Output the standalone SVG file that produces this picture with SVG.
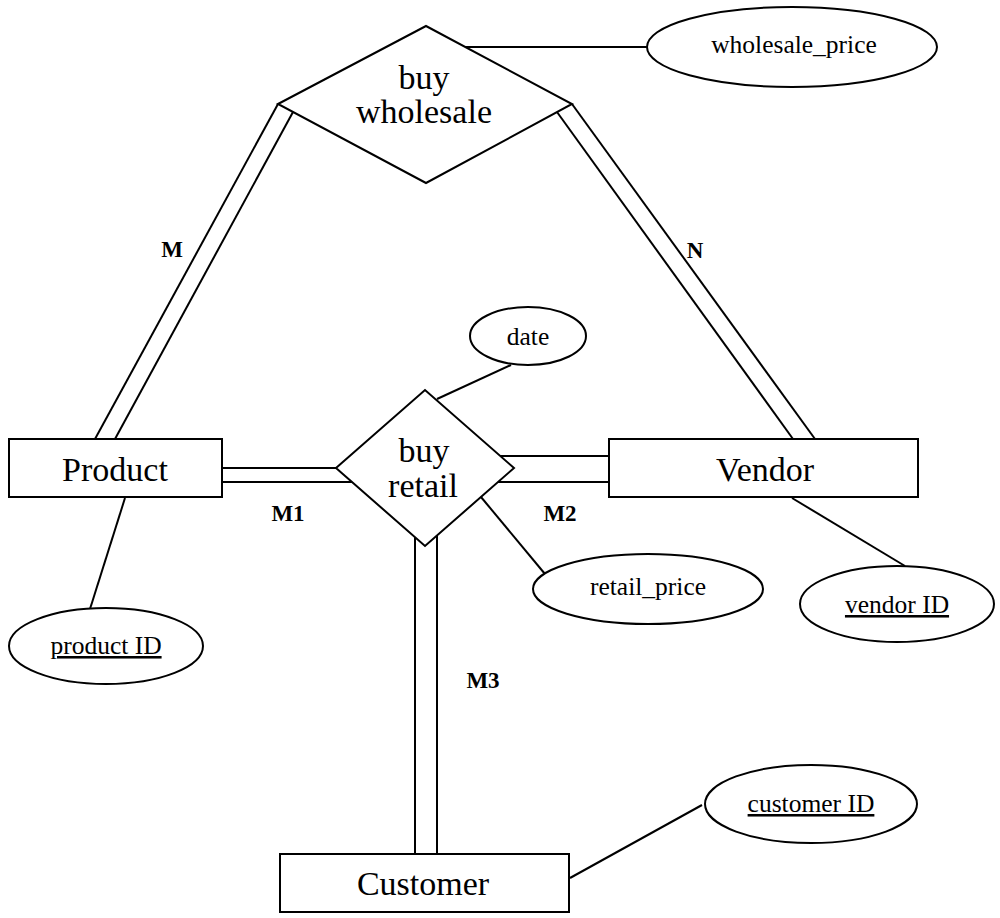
<svg xmlns="http://www.w3.org/2000/svg" width="1000" height="918" viewBox="0 0 1000 918">
<style>
.shape{fill:#fff;stroke:#000;stroke-width:2}
.ln{stroke:#000;stroke-width:2;fill:none}
.ent{font-family:"Liberation Serif","Times New Roman",serif;font-size:34px;text-anchor:middle;fill:#000}
.att{font-family:"Liberation Serif","Times New Roman",serif;font-size:25.5px;text-anchor:middle;fill:#000}
.key{text-decoration:underline}
.card{font-family:"Liberation Serif","Times New Roman",serif;font-size:23px;font-weight:bold;text-anchor:middle;fill:#000}
</style>
<rect width="1000" height="918" fill="#fff"/>
<g id="connectors">
<line class="ln" x1="278" y1="104" x2="95" y2="439"/>
<line class="ln" x1="293" y1="112" x2="115" y2="439"/>
<line class="ln" x1="572" y1="104" x2="815" y2="439"/>
<line class="ln" x1="557" y1="112" x2="793" y2="439"/>
<line class="ln" x1="465" y1="47" x2="647" y2="47"/>
<line class="ln" x1="222" y1="468" x2="336" y2="468"/>
<line class="ln" x1="222" y1="482" x2="352" y2="482"/>
<line class="ln" x1="500" y1="456" x2="609" y2="456"/>
<line class="ln" x1="498" y1="482" x2="609" y2="482"/>
<line class="ln" x1="415" y1="537" x2="415" y2="854"/>
<line class="ln" x1="437" y1="535" x2="437" y2="854"/>
<line class="ln" x1="437" y1="399" x2="511" y2="365"/>
<line class="ln" x1="481" y1="497" x2="545" y2="574"/>
<line class="ln" x1="125" y1="498" x2="90" y2="609"/>
<line class="ln" x1="792" y1="498" x2="905" y2="566"/>
<line class="ln" x1="570" y1="878" x2="702" y2="805"/>
<text class="card" x="172" y="257">M</text>
<text class="card" x="695" y="258">N</text>
<text class="card" x="288" y="521">M1</text>
<text class="card" x="560" y="521">M2</text>
<text class="card" x="483" y="688">M3</text>
</g>
<g id="buy_wholesale">
<polygon class="shape" points="278,104 426,26 572,104 426,183"/>
<text class="ent" x="424" y="89">buy</text>
<text class="ent" x="424" y="123">wholesale</text>
</g>
<g id="wholesale_price">
<ellipse class="shape" cx="792" cy="47" rx="145" ry="40"/>
<text class="att" x="794" y="53">wholesale_price</text>
</g>
<g id="product">
<rect class="shape" x="9" y="439" width="213" height="58"/>
<text class="ent" x="115" y="481">Product</text>
</g>
<g id="product_id">
<ellipse class="shape" cx="106" cy="646" rx="97" ry="38"/>
<text class="att key" x="106" y="654">product ID</text>
</g>
<g id="vendor">
<rect class="shape" x="609" y="439" width="309" height="58"/>
<text class="ent" x="765" y="481">Vendor</text>
</g>
<g id="vendor_id">
<ellipse class="shape" cx="897" cy="604" rx="97" ry="38"/>
<text class="att key" x="897" y="613">vendor ID</text>
</g>
<g id="buy_retail">
<polygon class="shape" points="336,468 425,390 514,468 425,546"/>
<text class="ent" x="424" y="462">buy</text>
<text class="ent" x="423" y="497">retail</text>
</g>
<g id="date">
<ellipse class="shape" cx="528" cy="336" rx="58" ry="29"/>
<text class="att" x="528" y="345">date</text>
</g>
<g id="retail_price">
<ellipse class="shape" cx="648" cy="589" rx="115" ry="35"/>
<text class="att" x="648" y="595">retail_price</text>
</g>
<g id="customer">
<rect class="shape" x="280" y="854" width="289" height="58"/>
<text class="ent" x="423" y="895">Customer</text>
</g>
<g id="customer_id">
<ellipse class="shape" cx="811" cy="804" rx="106" ry="39"/>
<text class="att key" x="811" y="812">customer ID</text>
</g>
</svg>
